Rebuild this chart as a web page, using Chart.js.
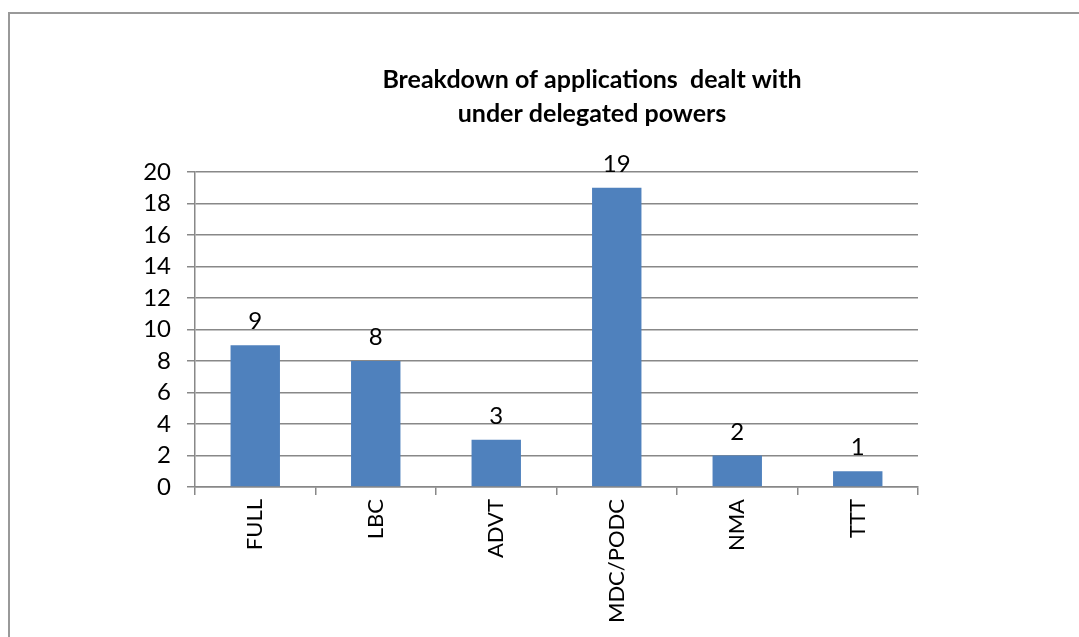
<!DOCTYPE html>
<html>
<head>
<meta charset="utf-8">
<script src="https://cdn.jsdelivr.net/npm/chart.js@4"></script>
<style>
  html, body { margin: 0; padding: 0; background: #fff; overflow: hidden; }
  #frame {
    position: absolute; left: 8px; top: 12px;
    width: 1164px; height: 700px;
    border-left: 2px solid #999; border-top: 2px solid #999;
  }
</style>
</head>
<body>
<div id="frame"><canvas id="chart" width="1164" height="700"></canvas></div>
<script>
const categories = ['FULL', 'LBC', 'ADVT', 'MDC/PODC', 'NMA', 'TTT'];
const counts = [9, 8, 3, 19, 2, 1];
const titleLines = ['Breakdown of applications  dealt with', 'under delegated powers'];

const fontFamily = 'Lato, "Open Sans", sans-serif';

// chart title, centred on the whole frame rather than the plot
const frameTitle = {
  id: 'frameTitle',
  afterDraw(chart) {
    const ctx = chart.ctx;
    ctx.save();
    ctx.font = 'bold 25px ' + fontFamily;
    ctx.fillStyle = '#000';
    ctx.textAlign = 'center';
    ctx.textBaseline = 'middle';
    titleLines.forEach((line, i) => {
      ctx.fillText(line, chart.width / 2, 66 + i * 34);
    });
    ctx.restore();
  }
};

// draws the value above each bar
const valueLabels = {
  id: 'valueLabels',
  afterDatasetsDraw(chart) {
    const ctx = chart.ctx;
    const meta = chart.getDatasetMeta(0);
    ctx.save();
    ctx.font = '24px ' + fontFamily;
    ctx.fillStyle = '#000';
    ctx.textAlign = 'center';
    ctx.textBaseline = 'alphabetic';
    meta.data.forEach((bar, i) => {
      ctx.fillText(String(counts[i]), bar.x, bar.y - 16);
    });
    ctx.restore();
  }
};

const ctx = document.getElementById('chart').getContext('2d');
new Chart(ctx, {
  type: 'bar',
  data: {
    labels: categories,
    datasets: [{
      data: counts,
      backgroundColor: '#4F81BD',
      borderColor: '#4F81BD',
      borderWidth: 0,
      categoryPercentage: 1,
      barPercentage: 0.41
    }]
  },
  options: {
    responsive: false,
    animation: false,
    layout: { padding: { left: 0, right: 256, top: 158, bottom: 0 } },
    plugins: {
      legend: { display: false },
      tooltip: { enabled: false },
      title: { display: false }
    },
    scales: {
      x: {
        grid: { display: true, drawOnChartArea: false, color: '#888', lineWidth: 1.5, tickLength: 8 },
        border: { color: '#888', width: 1.5 },
        ticks: { color: '#000', font: { family: fontFamily, size: 22 }, minRotation: 90, maxRotation: 90, padding: 4 },
        afterFit: s => { s.height = 227; }
      },
      y: {
        min: 0,
        max: 20,
        ticks: {
          stepSize: 2, maxTicksLimit: 11, autoSkip: false,
          color: '#000', font: { family: fontFamily, size: 24, lineHeight: 1 }, padding: 16
        },
        grid: { color: '#888', lineWidth: 1.5, tickLength: 8 },
        border: { color: '#888', width: 1.5 },
        afterFit: s => { s.width = 185; }
      }
    }
  },
  plugins: [valueLabels, frameTitle]
});
</script>
</body>
</html>
